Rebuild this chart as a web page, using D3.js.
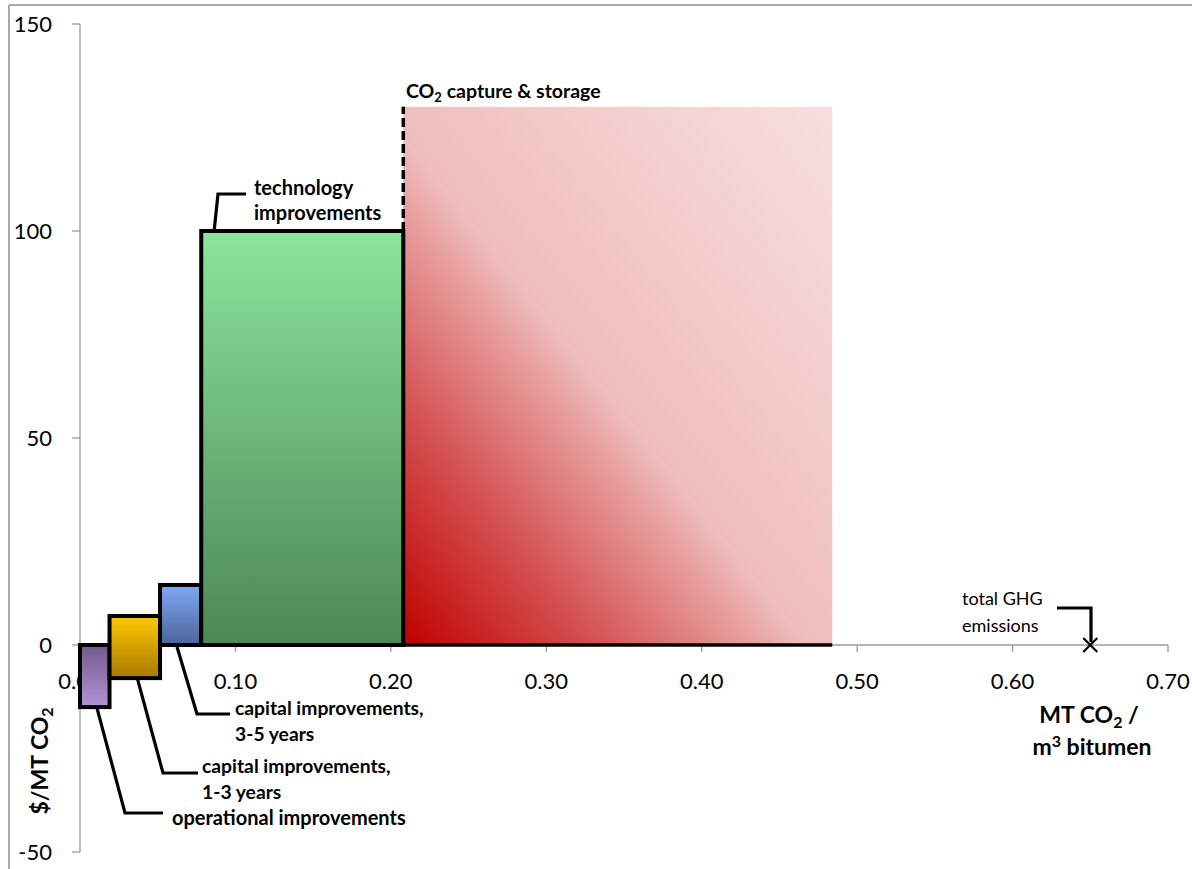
<!DOCTYPE html>
<html>
<head>
<meta charset="utf-8">
<script src="https://cdn.jsdelivr.net/npm/d3@7"></script>
<style>
  html, body { margin: 0; padding: 0; background: #fff; }
  svg { display: block; }
  text { font-family: Lato, "Open Sans", sans-serif; fill: #000; }
</style>
</head>
<body>
<svg id="chart" width="1192" height="869"></svg>
<script>
// ---- data ----
const categories = ["operational improvements", "capital improvements, 1-3 years", "capital improvements, 3-5 years", "technology improvements", "CO2 capture & storage"];
const widths = [0.019, 0.0325, 0.0265, 0.130, 0.276];      // MT CO2 / m3 bitumen
const lowValues = [-15, -8, 0, 0, 0];                       // $/MT CO2
const highValues = [0, 7, 14.5, 100, 130];                  // $/MT CO2
const totalGHG = 0.65;
const xTicks = [0, 0.1, 0.2, 0.3, 0.4, 0.5, 0.6, 0.7];
const xTickLabels = ["0.00", "0.10", "0.20", "0.30", "0.40", "0.50", "0.60", "0.70"];
const yTicks = [-50, 0, 50, 100, 150];
const yTickLabels = ["-50", "0", "50", "100", "150"];

const svg = d3.select("#chart");
const x = d3.scaleLinear().domain([0, 0.7]).range([80, 1168]);
const y = d3.scaleLinear().domain([-50, 150]).range([852, 24]);

// cumulative starts
const starts = [];
widths.reduce((acc, w, i) => { starts[i] = acc; return acc + w; }, 0);

// chart border (top & left)
svg.append("line").attr("x1", 9).attr("x2", 1192).attr("y1", 5).attr("y2", 5).attr("stroke", "#aaaaaa").attr("stroke-width", 2);
svg.append("line").attr("x1", 9).attr("x2", 9).attr("y1", 5).attr("y2", 869).attr("stroke", "#aaaaaa").attr("stroke-width", 2);

// gradients
const defs = svg.append("defs");
const vgrads = [
  ["g0", "#76598a", "#b393d6"],
  ["g1", "#ffc800", "#a87a00"],
  ["g2", "#7fa8f6", "#4a6598"],
  ["g3", "#8be59b", "#4d8656"]
];
vgrads.forEach(([id, c0, c1]) => {
  const g = defs.append("linearGradient").attr("id", id).attr("x1", 0).attr("y1", 0).attr("x2", 0).attr("y2", 1);
  g.append("stop").attr("offset", 0).attr("stop-color", c0);
  g.append("stop").attr("offset", 1).attr("stop-color", c1);
});
const rg = defs.append("linearGradient").attr("id", "g4").attr("x1", 0).attr("y1", 1).attr("x2", 1).attr("y2", 0);
[[0, "#c00000"], [0.22, "#d44f4f"], [0.41, "#e8a0a0"], [0.47, "#efbdbd"], [1, "#f8dfdf"]].forEach(([o, c]) => {
  rg.append("stop").attr("offset", o).attr("stop-color", c);
});

// axes
const gAxis = svg.append("g");
gAxis.append("line").attr("x1", x(0)).attr("x2", x(0)).attr("y1", y(150)).attr("y2", y(-50)).attr("stroke", "#9a9a9a").attr("stroke-width", 1.3);
gAxis.append("line").attr("x1", x(0)).attr("x2", x(0.7)).attr("y1", y(0)).attr("y2", y(0)).attr("stroke", "#9a9a9a").attr("stroke-width", 1.3);
yTicks.forEach((t, i) => {
  gAxis.append("line").attr("x1", x(0) - 8).attr("x2", x(0)).attr("y1", y(t)).attr("y2", y(t)).attr("stroke", "#9a9a9a").attr("stroke-width", 1.3);
  gAxis.append("text").attr("x", 52).attr("y", y(t)).attr("dy", "0.36em").attr("text-anchor", "end")
    .style("font-size", "22px").text(yTickLabels[i]);
});
xTicks.forEach((t, i) => {
  if (i > 0) gAxis.append("line").attr("x1", x(t)).attr("x2", x(t)).attr("y1", y(0)).attr("y2", y(0) + 7).attr("stroke", "#9a9a9a").attr("stroke-width", 1.3);
  gAxis.append("text").attr("x", x(t)).attr("y", 689).attr("text-anchor", "middle")
    .style("font-size", "22px").text(xTickLabels[i]);
});

// CCS gradient region
const ccs = 4;
svg.append("rect")
  .attr("x", x(starts[ccs])).attr("y", y(highValues[ccs]))
  .attr("width", x(starts[ccs] + widths[ccs]) - x(starts[ccs]))
  .attr("height", y(lowValues[ccs]) - y(highValues[ccs]))
  .attr("fill", "url(#g4)");
// bottom black edge of CCS
svg.append("line").attr("x1", x(starts[ccs])).attr("x2", x(starts[ccs] + widths[ccs]))
  .attr("y1", y(0)).attr("y2", y(0)).attr("stroke", "#000").attr("stroke-width", 3.5);
// dashed left edge from tech top to CCS top
svg.append("line").attr("x1", x(starts[ccs])).attr("x2", x(starts[ccs]))
  .attr("y1", y(highValues[3])).attr("y2", y(highValues[ccs]))
  .attr("stroke", "#000").attr("stroke-width", 3.5).attr("stroke-dasharray", "9,4");

// boxes
for (let i = 0; i < 4; i++) {
  svg.append("rect")
    .attr("x", x(starts[i])).attr("y", y(highValues[i]))
    .attr("width", x(starts[i] + widths[i]) - x(starts[i]))
    .attr("height", y(lowValues[i]) - y(highValues[i]))
    .attr("fill", `url(#g${i})`).attr("stroke", "#000").attr("stroke-width", 4);
}

// total GHG marker
const mx = x(totalGHG), my = y(0);
svg.append("path").attr("d", `M${mx-7},${my-7}L${mx+7},${my+7}M${mx-7},${my+7}L${mx+7},${my-7}`)
  .attr("stroke", "#000").attr("stroke-width", 2.2);

// leader lines
const leader = pts => svg.append("polyline").attr("points", pts.map(p => p.join(",")).join(" "))
  .attr("fill", "none").attr("stroke", "#000").attr("stroke-width", 3.2);
leader([[x(starts[0]) + 17, y(lowValues[0]) + 1], [125, 813], [163, 813]]);
leader([[x(starts[1]) + 28, y(lowValues[1]) + 1], [163, 773], [198, 773]]);
leader([[x(starts[2]) + 17, y(0) + 2], [197, 714], [230, 714]]);
leader([[x(starts[3]) + 13, y(highValues[3]) - 1], [218, 194], [246, 194]]);
leader([[1057, 608], [1091, 608], [1091, my - 3]]);

// labels
function label(xp, yp, lines, size, weight, lh) {
  const t = svg.append("text").attr("x", xp).attr("y", yp).style("font-size", size + "px").style("font-weight", weight);
  lines.forEach((l, k) => {
    t.append("tspan").attr("x", xp).attr("dy", k === 0 ? 0 : lh).text(l);
  });
  return t;
}
label(172, 825, ["operational improvements"], 20, 700, 26);
label(202, 773, ["capital improvements,", "1-3 years"], 19.3, 700, 26);
label(235, 715, ["capital improvements,", "3-5 years"], 19.3, 700, 26);
label(254, 195, ["technology", "improvements"], 20, 700, 25);
label(962, 605, ["total GHG", "emissions"], 18, 400, 27);

// CO2 capture & storage with subscript
const cc = svg.append("text").attr("x", 406).attr("y", 98).style("font-size", "19.5px").style("font-weight", 700);
cc.append("tspan").text("CO");
cc.append("tspan").attr("dy", 4).style("font-size", "13px").text("2");
cc.append("tspan").attr("dy", -4).text(" capture & storage");

// axis titles
const xt = svg.append("text").attr("x", 1089).attr("y", 723).attr("text-anchor", "middle").style("font-size", "23px").style("font-weight", 700);
xt.append("tspan").text("MT CO");
xt.append("tspan").attr("dy", 5).style("font-size", "16px").text("2");
xt.append("tspan").attr("dy", -5).text(" /");
const xt2 = svg.append("text").attr("x", 1092).attr("y", 755).attr("text-anchor", "middle").style("font-size", "23px").style("font-weight", 700);
xt2.append("tspan").text("m");
xt2.append("tspan").attr("dy", -8).style("font-size", "16px").text("3");
xt2.append("tspan").attr("dy", 8).text(" bitumen");

const yt = svg.append("text").attr("transform", "translate(48,761) rotate(-90)").attr("text-anchor", "middle").style("font-size", "23px").style("font-weight", 700);
yt.append("tspan").text("$/MT CO");
yt.append("tspan").attr("dy", 5).style("font-size", "16px").text("2");
</script>
</body>
</html>
